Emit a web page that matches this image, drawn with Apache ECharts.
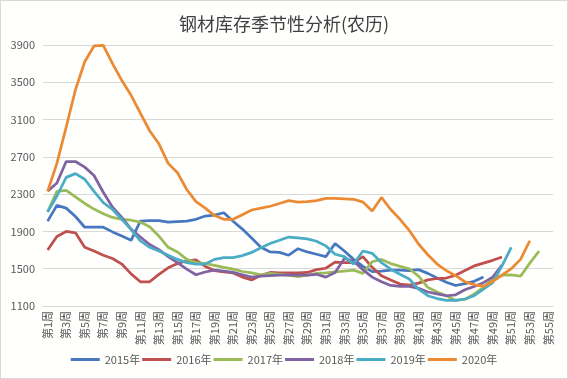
<!DOCTYPE html>
<html>
<head>
<meta charset="utf-8">
<script src="https://cdn.jsdelivr.net/npm/echarts@6/dist/echarts.min.js"></script>
<style>
html,body{margin:0;padding:0;background:#fff;}
#c{width:568px;height:379px;box-sizing:border-box;border:1px solid #d9d9d9;background:#fffffd;}
</style>
</head>
<body>
<div id="c"></div>
<script>
var titleText = '钢材库存季节性分析(农历)';
var weeks = ['第1周','第2周','第3周','第4周','第5周','第6周','第7周','第8周','第9周','第10周',
'第11周','第12周','第13周','第14周','第15周','第16周','第17周','第18周','第19周','第20周',
'第21周','第22周','第23周','第24周','第25周','第26周','第27周','第28周','第29周','第30周',
'第31周','第32周','第33周','第34周','第35周','第36周','第37周','第38周','第39周','第40周',
'第41周','第42周','第43周','第44周','第45周','第46周','第47周','第48周','第49周','第50周',
'第51周','第52周','第53周','第54周','第55周'];
var seriesNames = ['2015年','2016年','2017年','2018年','2019年','2020年'];
var y2015 = [2010,2180,2150,2060,1945,1945,1945,1895,1850,1805,2010,2015,2015,2000,2005,2010,2030,2065,2075,2100,2010,1925,1830,1730,1680,1675,1645,1715,1680,1655,1630,1770,1690,1600,1525,1470,1475,1485,1485,1480,1490,1450,1400,1355,1320,1340,1365,1410];
var y2016 = [1700,1845,1900,1885,1730,1690,1645,1610,1550,1445,1360,1360,1440,1510,1555,1585,1595,1525,1480,1465,1455,1410,1380,1430,1460,1455,1455,1455,1460,1490,1505,1570,1565,1565,1630,1515,1425,1380,1335,1325,1345,1380,1395,1400,1430,1480,1530,1560,1590,1625];
var y2017 = [2110,2330,2340,2270,2200,2140,2090,2050,2030,2020,2000,1950,1850,1730,1680,1600,1565,1555,1535,1515,1495,1470,1455,1435,1450,1440,1430,1415,1430,1450,1455,1465,1475,1485,1450,1575,1600,1555,1525,1500,1420,1300,1250,1210,1160,1170,1230,1300,1390,1430,1435,1420,1560,1690];
var y2018 = [2330,2420,2650,2650,2590,2500,2320,2160,2050,1925,1840,1760,1705,1630,1565,1495,1435,1465,1485,1475,1460,1435,1410,1420,1425,1430,1430,1430,1430,1440,1410,1460,1610,1580,1490,1410,1360,1320,1310,1310,1290,1250,1230,1210,1220,1275,1310,1350,1410,1540];
var y2019 = [2110,2280,2480,2520,2460,2330,2210,2135,2030,1920,1800,1730,1690,1645,1600,1565,1550,1550,1600,1620,1620,1640,1675,1725,1770,1805,1840,1830,1820,1795,1745,1655,1630,1550,1690,1665,1565,1495,1440,1390,1280,1210,1180,1160,1160,1175,1210,1280,1350,1530,1730];
var y2020 = [2330,2630,3020,3420,3720,3890,3895,3700,3520,3360,3170,2980,2840,2630,2530,2350,2220,2150,2070,2030,2030,2080,2130,2150,2170,2200,2230,2215,2220,2230,2255,2255,2250,2245,2215,2120,2265,2135,2030,1910,1765,1650,1550,1480,1425,1360,1330,1310,1365,1430,1500,1600,1800];
var yTicks = [1100,1500,1900,2300,2700,3100,3500,3900];

var colors = ['#4677c0','#c0504d','#9bbb59','#8064a2','#4bacc6','#ec8a33'];
var allData = [y2015,y2016,y2017,y2018,y2019,y2020];
var fontFam = '"Noto Sans CJK SC", "Noto Sans", sans-serif';

var chart = echarts.init(document.getElementById('c'), null, {renderer:'canvas'});
chart.setOption({
  animation:false,
  backgroundColor:'#fffffd',
  color:colors,
  title:{
    text:titleText, left:'center', top:9,
    textStyle:{fontSize:18, fontWeight:'normal', color:'#404040', fontFamily:fontFam}
  },
  legend:{
    data:seriesNames, bottom:8, left:'center',
    icon:'rect', itemWidth:29, itemHeight:3, itemGap:2,
    textStyle:{fontSize:11, color:'#595959', fontFamily:fontFam}
  },
  grid:{left:42, right:14, top:44, bottom:72, containLabel:false, outerBoundsMode:'none'},
  xAxis:{
    type:'category', data:weeks, boundaryGap:true,
    axisLine:{show:true, lineStyle:{color:'#d9d9d9'}},
    axisTick:{show:false},
    axisLabel:{rotate:90, interval:1, fontSize:11, color:'#595959', margin:5, fontFamily:fontFam}
  },
  yAxis:{
    type:'value', min:yTicks[0], max:yTicks[yTicks.length-1], interval:400,
    axisLine:{show:false}, axisTick:{show:false},
    axisLabel:{fontSize:11, color:'#595959', margin:8, fontFamily:fontFam,
      formatter:function(v){ return String(v); }},
    splitLine:{lineStyle:{color:'#d9d9d9', width:1}}
  },
  series: seriesNames.map(function(n,i){
    return {name:n, type:'line', data:allData[i], symbol:'none', showSymbol:false, smooth:false,
      lineStyle:{width:2.75, color:colors[i]}, itemStyle:{color:colors[i]}};
  })
});
</script>
</body>
</html>
